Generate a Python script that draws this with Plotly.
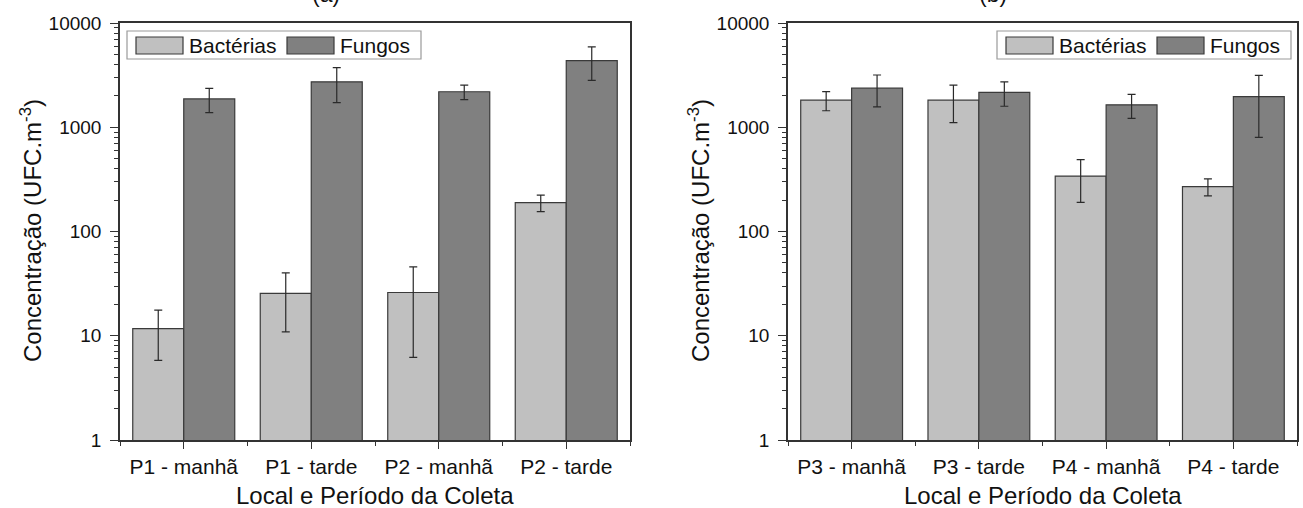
import plotly.graph_objects as go

# Figure size in pixels
W, H = 1303, 508
M_TOP, M_BOT = 23, 68

# ---- data ----
cats_a = ["P1 - manhã", "P1 - tarde", "P2 - manhã", "P2 - tarde"]
cats_b = ["P3 - manhã", "P3 - tarde", "P4 - manhã", "P4 - tarde"]

bact_a = [11.7, 25.5, 26.0, 189]
bact_a_sd = [5.9, 14.6, 19.8, 34]
fung_a = [1870, 2730, 2190, 4350]
fung_a_sd = [490, 1010, 350, 1540]

bact_b = [1820, 1820, 340, 270]
bact_b_sd = [380, 710, 150, 50]
fung_b = [2370, 2160, 1640, 1970]
fung_b_sd = [800, 570, 425, 1170]

series_names = ["Bactérias", "Fungos"]
panel_labels = ["(a)", "(b)"]
y_tickvals = [1, 10, 100, 1000, 10000]
y_ticktext = ["1", "10", "100", "1000", "10000"]
x_title = "Local e Período da Coleta"
y_title = "Concentração (UFC.m<sup>-3</sup>)"

# ---- styling ----
FONT = "Liberation Sans, Arial, sans-serif"
C_BACT = "#c0c0c0"
C_FUNG = "#808080"
C_EDGE = "#3a3a3a"
C_AXIS = "#333333"
C_TEXT = "#111111"
PLOT_H = H - M_TOP - M_BOT


def px_x(px):
    return px / W


def px_y(py):
    return (H - M_BOT - py) / PLOT_H


panels = [
    dict(cats=cats_a, bact=bact_a, bact_sd=bact_a_sd, fung=fung_a, fung_sd=fung_a_sd,
         x0=120, x1=630, label_x=326, legend_x=127, ax="", label=panel_labels[0]),
    dict(cats=cats_b, bact=bact_b, bact_sd=bact_b_sd, fung=fung_b, fung_sd=fung_b_sd,
         x0=788, x1=1297, label_x=993, legend_x=997, ax="2", label=panel_labels[1]),
]

fig = go.Figure()
layout = dict(
    width=W, height=H,
    margin=dict(l=0, r=0, t=M_TOP, b=M_BOT, pad=0),
    paper_bgcolor="white", plot_bgcolor="white",
    barmode="group", bargap=0.2, bargroupgap=0.0,
    showlegend=False,
    font=dict(family=FONT, size=20, color=C_TEXT),
)

annotations = []
shapes = []

for p in panels:
    xa = "x" + p["ax"]
    ya = "y" + p["ax"]
    xpos = list(range(len(p["cats"])))
    for name, vals, sd, col in [
        (series_names[0], p["bact"], p["bact_sd"], C_BACT),
        (series_names[1], p["fung"], p["fung_sd"], C_FUNG),
    ]:
        fig.add_trace(go.Bar(
            x=xpos, y=vals, name=name, xaxis=xa, yaxis=ya,
            marker=dict(color=col, line=dict(color=C_EDGE, width=1.2)),
            error_y=dict(type="data", array=sd, visible=True,
                         color="#2a2a2a", thickness=1.2, width=4),
        ))

    layout["xaxis" + p["ax"]] = dict(
        domain=[px_x(p["x0"]), px_x(p["x1"])],
        anchor=ya, range=[-0.5, len(p["cats"]) - 0.5],
        tickmode="array", tickvals=xpos, ticktext=p["cats"],
        ticks="outside", ticklen=7, tickwidth=1.3, tickcolor=C_AXIS,
        minor=dict(ticks="outside", ticklen=4, tickwidth=1.3, tickcolor=C_AXIS,
                   tick0=-0.5, dtick=1),
        showline=True, linecolor=C_AXIS, linewidth=1.5, mirror=True,
        showgrid=False, zeroline=False,
        tickfont=dict(family=FONT, size=21, color=C_TEXT),
    )
    layout["yaxis" + p["ax"]] = dict(
        anchor=xa, type="log", range=[0, 4],
        tickmode="array", tickvals=y_tickvals, ticktext=y_ticktext,
        ticks="outside", ticklen=8, tickwidth=1.3, tickcolor=C_AXIS,
        minor=dict(ticks="outside", ticklen=4, tickwidth=1.1, tickcolor=C_AXIS,
                   dtick="D1"),
        showline=True, linecolor=C_AXIS, linewidth=1.5, mirror=True,
        showgrid=False, zeroline=False, ticklabelstandoff=5,
        tickfont=dict(family=FONT, size=19, color=C_TEXT),
    )

    cx = (p["x0"] + p["x1"]) / 2
    # axis titles
    annotations.append(dict(
        text=x_title, xref="paper", yref="paper",
        x=px_x(cx), y=px_y(495), xanchor="center", yanchor="middle",
        showarrow=False, font=dict(family=FONT, size=24, color=C_TEXT)))
    annotations.append(dict(
        text=y_title, xref="paper", yref="paper", textangle=-90,
        x=px_x(p["x0"] - 89), y=px_y(231), xanchor="center", yanchor="middle",
        showarrow=False, font=dict(family=FONT, size=24, color=C_TEXT)))
    # panel label, partly above the page edge
    annotations.append(dict(
        text=p["label"], xref="paper", yref="paper",
        x=px_x(p["label_x"]), y=px_y(-6), xanchor="center", yanchor="middle",
        showarrow=False, font=dict(family=FONT, size=23, color=C_TEXT)))

    # legend box with large swatches
    lx = p["legend_x"]
    shapes.append(dict(type="rect", xref="paper", yref="paper",
                       x0=px_x(lx), x1=px_x(lx + 294), y0=px_y(31), y1=px_y(59),
                       line=dict(color="#9a9a9a", width=1.2), fillcolor="white"))
    for k, (name, col) in enumerate(zip(series_names, [C_BACT, C_FUNG])):
        sx = lx + 9 + k * 151
        shapes.append(dict(type="rect", xref="paper", yref="paper",
                           x0=px_x(sx), x1=px_x(sx + 47), y0=px_y(37), y1=px_y(54),
                           line=dict(color=C_EDGE, width=1.2), fillcolor=col))
        annotations.append(dict(
            text=name, xref="paper", yref="paper",
            x=px_x(sx + 51), y=px_y(45.5), xanchor="left", yanchor="middle",
            showarrow=False, font=dict(family=FONT, size=21, color=C_TEXT)))

layout["annotations"] = annotations
layout["shapes"] = shapes
fig.update_layout(**layout)

fig.write_html("out.html")
